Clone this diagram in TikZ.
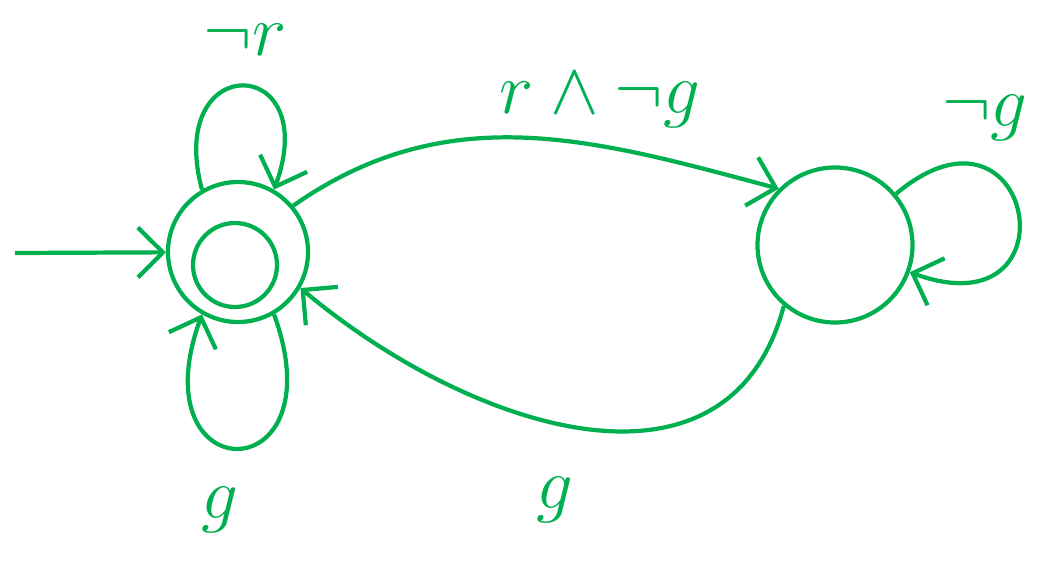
\documentclass[tikz,border=0pt]{standalone}
\usepackage{amsmath}
\usepackage{xcolor}
\usetikzlibrary{positioning, arrows.meta}

\definecolor{inkgreen}{RGB}{0,176,80}

\begin{document}
\begin{tikzpicture}[
    state/.style={draw=inkgreen, line width=1.2pt, circle, inner sep=0pt},
    edge/.style={draw=inkgreen, line width=1.2pt, -{Straight Barb[length=2.5mm, width=5mm]}},
    lbl/.style={text=inkgreen, font=\fontsize{20}{24}\selectfont, inner sep=1pt}
]
\useasboundingbox (0, 0) rectangle (10.39, 5.62);

\node[state, minimum size=1.4cm] (q0) at (2.38, 3.10) {};
\node[state, minimum size=0.84cm] (q0in) at (2.35, 2.97) {};
\node[state, minimum size=1.55cm] (q1) at (8.35, 3.17) {};
\coordinate (init) at (0.15, 3.09);

\node[lbl] (lnr) at (2.45, 5.22) {$\neg r$};
\node[lbl] (lrng) at (6.00, 4.62) {$r \wedge \neg g$};
\node[lbl] (lng) at (9.85, 4.44) {$\neg g$};
\node[lbl] (lg0) at (2.20, 0.52) {$g$};
\node[lbl] (lg1) at (5.55, 0.62) {$g$};

\draw[edge] (init) -- (q0);
\draw[edge] (q0.120) .. controls +(105:1.45) and +(70:1.45) .. (q0.60);
\draw[edge] (q0.-60) .. controls +(-70:1.9) and +(-110:1.9) .. (q0.-120);
\draw[edge] (q0.40) to[out=35, in=165] (q1.135);
\draw[edge] (q1.-130) to[out=-105, in=-40, looseness=1.15] (q0.-30);
\draw[edge] (q1.40) .. controls +(40:1.8) and +(-20:1.8) .. (q1.-20);
\end{tikzpicture}
\end{document}
